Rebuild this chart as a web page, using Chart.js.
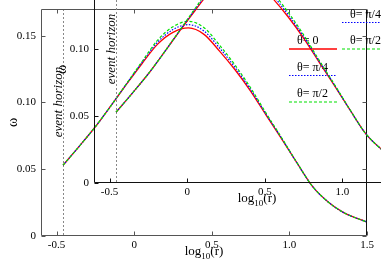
<!DOCTYPE html>
<html>
<head>
<meta charset="utf-8">
<script src="https://cdn.jsdelivr.net/npm/chart.js@4.4.1/dist/chart.umd.min.js"></script>
<style>
  html, body { margin: 0; padding: 0; background: #fff; overflow: hidden; }
  #wrap { position: relative; width: 381px; height: 267px; overflow: hidden; background: #fff; }
  #wrap canvas { position: absolute; }
  #main { left: 0; top: 0; }
  #inset { left: 53px; top: -53px; }
</style>
</head>
<body>
<div id="wrap">
  <canvas id="main" width="381" height="267"></canvas>
  <canvas id="inset" width="381" height="267"></canvas>
</div>
<script>
(() => {
    'use strict'

    // log10(r) samples and omega for the three angles
    const logR = [-0.458, -0.35, -0.25, -0.15, -0.05, 0.05, 0.15, 0.25, 0.35, 0.45,
        0.55, 0.65, 0.75, 0.85, 0.95, 1.05, 1.15, 1.25, 1.35, 1.5]
    const omegaTheta0 = [0.053, 0.0677, 0.0818, 0.0975, 0.1135, 0.129, 0.1435, 0.1525, 0.1558, 0.151,
        0.1385, 0.1245, 0.1085, 0.0905, 0.0728, 0.0545, 0.037, 0.0255, 0.0175, 0.0104]
    const omegaThetaPi4 = [0.053, 0.0677, 0.0818, 0.0975, 0.1137, 0.1298, 0.145, 0.1546, 0.1583, 0.1535,
        0.1408, 0.1262, 0.1097, 0.0912, 0.0732, 0.0545, 0.037, 0.0255, 0.0175, 0.0104]
    const omegaThetaPi2 = [0.053, 0.0677, 0.0818, 0.0975, 0.114, 0.1305, 0.1465, 0.1567, 0.1608, 0.156,
        0.143, 0.128, 0.111, 0.092, 0.0736, 0.0547, 0.037, 0.0255, 0.0175, 0.0104]

    const seriesLabels = ['θ= 0', 'θ= π/4', 'θ= π/2']
    const xTicks = [-0.5, 0, 0.5, 1, 1.5]
    const yTicks = [0, 0.05, 0.1, 0.15]
    const horizon = -0.458

    const serif = "'Liberation Serif', 'DejaVu Serif', serif"
    const styles = [
        { color: '#ff0000', dash: [], width: 1.3 },
        { color: '#0000ff', dash: [1.5, 1.5], width: 1.2 },
        { color: '#00e000', dash: [3, 2], width: 1.2 }
    ]

    const points = values => logR.map((x, i) => ({ x, y: values[i] }))

    const decorations = {
        id: 'decorations',
        beforeDatasetsDraw(chart, args, opts) {
            const { ctx, chartArea: a, scales: { x } } = chart
            const hx = Math.round(x.getPixelForValue(horizon)) + 0.5
            ctx.save()
            ctx.strokeStyle = '#888'
            ctx.lineWidth = 1
            ctx.setLineDash([2, 2])
            ctx.beginPath()
            ctx.moveTo(hx, a.top)
            ctx.lineTo(hx, a.bottom)
            ctx.stroke()
            ctx.setLineDash([])
            ctx.translate(hx - 5, a.top + 93)
            ctx.rotate(-Math.PI / 2)
            ctx.font = 'italic 13px ' + serif
            ctx.fillStyle = '#000'
            ctx.textAlign = 'center'
            ctx.textBaseline = 'middle'
            ctx.fillText('event horizon', 0, 0)
            ctx.restore()
        },
        afterDraw(chart, args, opts) {
            const { ctx, chartArea: a, scales: { x, y } } = chart
            const L = a.left + 0.5, R = a.right - 0.5, T = a.top + 0.5, B = a.bottom - 0.5
            ctx.save()
            ctx.lineWidth = 1
            ctx.strokeStyle = opts.frame
            ctx.beginPath()
            ctx.moveTo(R, T); ctx.lineTo(L, T); ctx.lineTo(L, B); ctx.lineTo(R, B)
            ctx.stroke()
            ctx.strokeStyle = opts.right
            ctx.beginPath()
            ctx.moveTo(R, T); ctx.lineTo(R, B)
            ctx.stroke()

            // inward ticks on all four sides
            ctx.strokeStyle = opts.frame
            ctx.beginPath()
            xTicks.forEach(v => {
                const px = Math.round(x.getPixelForValue(v)) + 0.5
                ctx.moveTo(px, B); ctx.lineTo(px, B - 4)
                ctx.moveTo(px, T); ctx.lineTo(px, T + 4)
            })
            yTicks.forEach(v => {
                const py = Math.round(y.getPixelForValue(v)) + 0.5
                ctx.moveTo(L, py); ctx.lineTo(L + 4, py)
                ctx.moveTo(R, py); ctx.lineTo(R - 4, py)
            })
            ctx.stroke()

            // key
            ctx.font = '12px ' + serif
            ctx.fillStyle = '#000'
            ctx.textBaseline = 'middle'
            ctx.textAlign = 'left'
            seriesLabels.forEach((label, i) => {
                const ly = a.top + 40 + i * 26.5
                const s = styles[i]
                ctx.fillText(label, a.right - 70, ly - 8)
                ctx.strokeStyle = s.color
                ctx.lineWidth = s.width
                ctx.setLineDash(s.dash)
                ctx.beginPath()
                ctx.moveTo(a.right - 78, ly)
                ctx.lineTo(a.right - 30, ly)
                ctx.stroke()
            })
            ctx.setLineDash([])

            // x axis title log10(r)
            const cx = (a.left + a.right) / 2
            const base = a.bottom + 19
            ctx.textBaseline = 'alphabetic'
            ctx.font = '13px ' + serif
            const w1 = ctx.measureText('log').width
            const w3 = ctx.measureText('(r)').width
            ctx.font = '9px ' + serif
            const w2 = ctx.measureText('10').width
            let tx = cx - (w1 + w2 + w3) / 2
            ctx.font = '13px ' + serif
            ctx.fillText('log', tx, base)
            tx += w1
            ctx.font = '9px ' + serif
            ctx.fillText('10', tx, base + 4)
            tx += w2
            ctx.font = '13px ' + serif
            ctx.fillText('(r)', tx, base)
            ctx.restore()
        }
    }

    function makeChart(id, frame, right, titlePad) {
        return new Chart(document.getElementById(id), {
            type: 'line',
            data: {
                datasets: [omegaTheta0, omegaThetaPi4, omegaThetaPi2].map((vals, i) => ({
                    label: seriesLabels[i],
                    data: points(vals),
                    borderColor: styles[i].color,
                    borderDash: styles[i].dash,
                    borderWidth: styles[i].width,
                    pointRadius: 0,
                    fill: false,
                    cubicInterpolationMode: 'monotone',
                    order: 2 - i
                }))
            },
            options: {
                responsive: false,
                animation: false,
                devicePixelRatio: 1,
                layout: { padding: { left: 0, top: 9, right: 14, bottom: 0 } },
                plugins: {
                    legend: { display: false },
                    tooltip: { enabled: false },
                    decorations: { frame, right }
                },
                scales: {
                    x: {
                        type: 'linear',
                        min: -0.6,
                        max: 1.5,
                        grid: { display: false, drawTicks: false },
                        border: { display: false },
                        afterBuildTicks: s => { s.ticks = xTicks.map(value => ({ value })) },
                        afterFit: s => { s.height = 31; s.paddingLeft = 0; s.paddingRight = 0 },
                        ticks: {
                            padding: 3,
                            color: '#000',
                            maxRotation: 0,
                            font: { family: serif, size: 11 }
                        }
                    },
                    y: {
                        min: 0,
                        max: 0.17,
                        grid: { display: false, drawTicks: false },
                        border: { display: false },
                        afterBuildTicks: s => { s.ticks = yTicks.map(value => ({ value })) },
                        afterFit: s => { s.width = 41; s.paddingTop = 0; s.paddingBottom = 0 },
                        ticks: {
                            padding: 5,
                            color: '#000',
                            font: { family: serif, size: 11 }
                        },
                        title: {
                            display: true,
                            text: 'ω',
                            color: '#000',
                            font: { family: serif, size: 14 },
                            padding: { top: titlePad, bottom: 0 }
                        }
                    }
                }
            },
            plugins: [decorations]
        })
    }

    makeChart('main', '#555', '#111', 4.6)
    makeChart('inset', '#111', '#111', 0.6)
})()
</script>
</body>
</html>
